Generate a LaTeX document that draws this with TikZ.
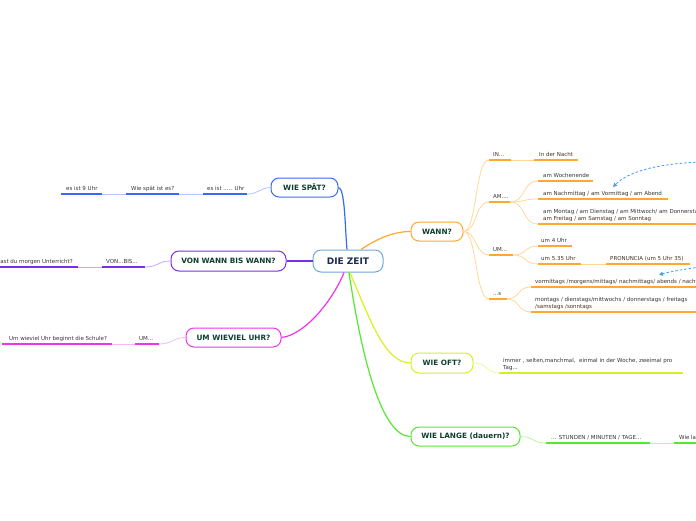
\documentclass[tikz,border=0pt]{standalone}
\usepackage{fontspec}
\setmainfont{DejaVu Sans}
\usetikzlibrary{arrows.meta}
\definecolor{tdark}{HTML}{0F3D2E}
\definecolor{znavy}{HTML}{1D2B4F}
\definecolor{zborder}{HTML}{6FA8DC}
\definecolor{tgray}{HTML}{333333}
\definecolor{cblue}{HTML}{3A6AF0}
\definecolor{lblue}{HTML}{B0C6FF}
\definecolor{cpurple}{HTML}{7A2FF0}
\definecolor{lpurple}{HTML}{C6A8FF}
\definecolor{cmag}{HTML}{EE33EE}
\definecolor{lmag}{HTML}{F8B8F8}
\definecolor{corange}{HTML}{FFA830}
\definecolor{lorange}{HTML}{FFD898}
\definecolor{cyel}{HTML}{D8F020}
\definecolor{lyel}{HTML}{EEF8A0}
\definecolor{cgreen}{HTML}{55E830}
\definecolor{lgreen}{HTML}{B8F8A0}
\definecolor{darr}{HTML}{4A9AE8}
\begin{document}
\begin{tikzpicture}[x=1pt,y=-1pt,
  topic/.style={draw, rounded corners=8pt, fill=white, line width=1pt, text=tdark,
    font=\fontsize{7.3}{9}\selectfont\bfseries, inner sep=0pt},
  lab/.style={anchor=base west, inner sep=0pt, text=tgray, font=\fontsize{5.5}{6.5}\selectfont},
  ul/.style={line width=1.6pt},
  lnk/.style={line width=0.8pt},
  mainlink/.style={line width=1.2pt},
  dasharrow/.style={draw=darr, line width=0.8pt, dash pattern=on 2.5pt off 2pt,
    -{Triangle[length=4pt,width=4pt]}}]
\clip (0,0) rectangle (696,520);

% ---------- topic boxes ----------
\node[topic, draw=zborder, text=znavy, font=\fontsize{9}{11}\selectfont\bfseries,
  minimum width=70pt, minimum height=22pt] (zeit) at (348,261) {DIE ZEIT};
\node[topic, draw=cblue, minimum width=67pt, minimum height=19pt] (spaet) at (304.5,187.5) {WIE SPÄT?};
\node[topic, draw=cpurple, minimum width=115pt, minimum height=20pt] (vonwann) at (228.5,261) {VON WANN BIS WANN?};
\node[topic, draw=cmag, minimum width=95pt, minimum height=19pt] (umwieviel) at (233.5,337.5) {UM WIEVIEL UHR?};
\node[topic, draw=corange, minimum width=52pt, minimum height=19pt] (wann) at (437,231.5) {WANN?};
\node[topic, draw=cyel, minimum width=62pt, minimum height=20pt] (wieoft) at (442,363) {WIE OFT?};
\node[topic, draw=cgreen, minimum width=109pt, minimum height=19pt] (wielange) at (465.5,436.5) {WIE LANGE (dauern)?};

% ---------- main links ----------
\draw[mainlink, cblue] (spaet.east) .. controls (345,188) and (345,228) .. ([xshift=-1pt]zeit.north);
\draw[mainlink, cpurple] (vonwann.east) -- (zeit.west);
\draw[mainlink, cmag] (umwieviel.east) .. controls (305,335) and (333,300) .. ([xshift=-4pt]zeit.south);
\draw[mainlink, corange] ([xshift=13pt]zeit.north) .. controls (375,240) and (392,231.5) .. (wann.west);
\draw[mainlink, cyel] ([xshift=2pt]zeit.south) .. controls (370,320) and (385,363) .. (wieoft.west);
\draw[mainlink, cgreen] ([xshift=1pt]zeit.south) .. controls (362,360) and (382,436.5) .. (wielange.west);

% ---------- WIE SPAT? ----------
\draw[ul, cblue] (203,194) coordinate (s1a) -- (247,194) coordinate (s1b);
\draw[ul, cblue] (126,194) coordinate (s2a) -- (179,194) coordinate (s2b);
\draw[ul, cblue] (61,194) coordinate (s3a) -- (102,194) coordinate (s3b);
\draw[lnk, lblue] (s1b) .. controls (259,194) and (259,188) .. (spaet.west);
\draw[lnk, lblue] (s2b) -- (s1a);
\draw[lnk, lblue] (s3b) -- (s2a);
\node[lab] (s1) at (207,190) {es ist ..... Uhr};
\node[lab] (s2) at (131,190) {Wie spät ist es?};
\node[lab] (s3) at (66,190) {es ist 9 Uhr};

% ---------- VON WANN BIS WANN? ----------
\draw[ul, cpurple] (102,267) coordinate (v1a) -- (145,267) coordinate (v1b);
\draw[ul, cpurple] (-5,267) coordinate (v2a) -- (78,267) coordinate (v2b);
\draw[lnk, lpurple] (v1b) .. controls (158,267) and (158,261) .. (vonwann.west);
\draw[lnk, lpurple] (v2b) -- (v1a);
\node[lab] (v1) at (106,263) {VON...BIS...};
\node[lab, anchor=base east] (v2) at (73,263) {Hast du morgen Unterricht?};

% ---------- UM WIEVIEL UHR? ----------
\draw[ul, cmag] (135,344) coordinate (u1a) -- (159,344) coordinate (u1b);
\draw[ul, cmag] (2,344) coordinate (u2a) -- (112,344) coordinate (u2b);
\draw[lnk, lmag] (u1b) .. controls (173,344) and (173,337.5) .. (umwieviel.west);
\draw[lnk, lmag] (u2b) -- (u1a);
\node[lab] (u1) at (139,340) {UM...};
\node[lab] (u2) at (9,340) {Um wieviel Uhr beginnt die Schule?};

% ---------- WANN? ----------
\draw[ul, corange] (489,160) coordinate (in1a) -- (511,160) coordinate (in1b);
\draw[ul, corange] (534,160) coordinate (in2a) -- (578,160) coordinate (in2b);
\draw[ul, corange] (489,202) coordinate (am1a) -- (510,202) coordinate (am1b);
\draw[ul, corange] (538,181) coordinate (am2a) -- (593,181) coordinate (am2b);
\draw[ul, corange] (538,199) coordinate (am3a) -- (668,199) coordinate (am3b);
\draw[ul, corange] (538,224) coordinate (am4a) -- (700,224) coordinate (am4b);
\draw[ul, corange] (489,255) coordinate (um1a) -- (513,255) coordinate (um1b);
\draw[ul, corange] (538,246) coordinate (um2a) -- (572,246) coordinate (um2b);
\draw[ul, corange] (538,264) coordinate (um3a) -- (581,264) coordinate (um3b);
\draw[ul, corange] (606,264) coordinate (um4a) -- (690,264) coordinate (um4b);
\draw[ul, corange] (489,299) coordinate (s1xa) -- (507,299) coordinate (s1xb);
\draw[ul, corange] (531,287) coordinate (s2xa) -- (700,287) coordinate (s2xb);
\draw[ul, corange] (531,312) coordinate (s3xa) -- (700,312) coordinate (s3xb);

\foreach \t in {in1a,am1a,um1a,s1xa}
  \draw[lnk, lorange] (wann.east) .. controls (477,231.5) and (475,0|-\t) .. (\t);
\draw[lnk, lorange] (in1b) -- (in2a);
\foreach \t in {am2a,am3a,am4a}
  \draw[lnk, lorange] (am1b) .. controls (526,202) and (522,0|-\t) .. (\t);
\foreach \t in {um2a,um3a}
  \draw[lnk, lorange] (um1b) .. controls (527,255) and (524,0|-\t) .. (\t);
\draw[lnk, lorange] (um3b) -- (um4a);
\foreach \t in {s2xa,s3xa}
  \draw[lnk, lorange] (s1xb) .. controls (520,299) and (517,0|-\t) .. (\t);

\node[lab] (tin1) at (493,156) {IN...};
\node[lab] (tin2) at (539,156) {In der Nacht};
\node[lab] (tam1) at (493,198) {AM....};
\node[lab] (tam2) at (543,177) {am Wochenende};
\node[lab] (tam3) at (543,195) {am Nachmittag / am Vormittag / am Abend};
\node[lab] (tam4) at (543,213) {am Montag / am Dienstag / am Mittwoch/ am Donnerstag /};
\node[lab] (tam5) at (543,220) {am Freitag / am Samstag / am Sonntag};
\node[lab] (tum1) at (493,251) {UM...};
\node[lab] (tum2) at (541,242) {um 4 Uhr};
\node[lab] (tum3) at (541,260) {um 5.35 Uhr};
\node[lab] (tum4) at (610,260) {PRONUNCIA (um 5 Uhr 35)};
\node[lab] (ts1) at (493,295) {...s};
\node[lab] (ts2) at (535,283) {vormittags /morgens/mittags/ nachmittags/ abends / nachts};
\node[lab] (ts3) at (535,301) {montags / dienstags/mittwochs / donnerstags / freitags};
\node[lab] (ts4) at (535,308) {/samstags /sonntags};

% dashed arrows
\coordinate (d1) at (700,162);
\coordinate (d2) at (700,267);
\draw[dasharrow] (d1) .. controls (655,164) and (628,172) .. ([shift={(70pt,8pt)}]tam3.base west);
\draw[dasharrow] (d2) .. controls (685,269) and (668,272) .. ([shift={(124pt,8pt)}]ts2.base west);

% ---------- WIE OFT? ----------
\draw[ul, cyel] (499,373) coordinate (o1a) -- (683,373) coordinate (o1b);
\draw[lnk, lyel] (wieoft.east) .. controls (488,363) and (486,373) .. (o1a);
\node[lab] (to1) at (503,362) {immer , selten,manchmal,\ \ einmal in der Woche, zweimal pro};
\node[lab] (to2) at (503,369) {Tag...};

% ---------- WIE LANGE? ----------
\draw[ul, cgreen] (546,443) coordinate (l1a) -- (650,443) coordinate (l1b);
\draw[ul, cgreen] (674,443) coordinate (l2a) -- (700,443) coordinate (l2b);
\draw[lnk, lgreen] (wielange.east) .. controls (534,436.5) and (532,443) .. (l1a);
\draw[lnk, lgreen] (l1b) -- (l2a);
\node[lab] (tl1) at (551,439) {... STUNDEN / MINUTEN / TAGE...};
\node[lab] (tl2) at (679,439) {Wie lange dauert es?};
\end{tikzpicture}
\end{document}
